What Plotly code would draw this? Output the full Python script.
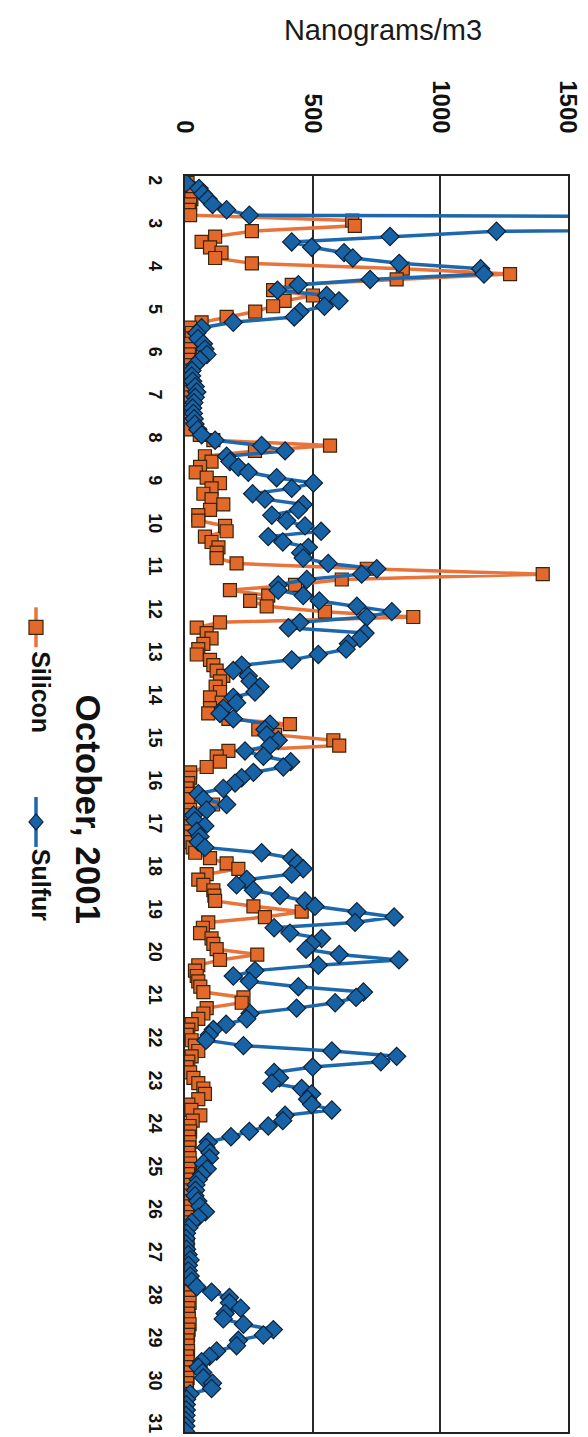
import pandas as pd
import plotly.graph_objects as go

# ---------------- data (3-hourly readings, October 2001) ----------------
start_time = "2001-10-02 00:00"
step = "3h"

silicon = [
    10, 15, 20, 25, 20, 15, 20, 655,          # Oct 2
    665, 262, 118, 65, 98, 143, 118, 262,     # Oct 3
    853, 1273, 829, 418, 345, 501, 390, 345,  # Oct 4
    275, 163, 65, 20, 26, 26, 24, 20,         # Oct 5
    15, 13, 10, 8, 7, 6, 5, 5,                # Oct 6
    5, 5, 6, 6, 8, 10, 20, 58,                # Oct 7
    111, 568, 274, 78, 104, 59, 42, 85,       # Oct 8
    137, 104, 72, 104, 150, 98, 52, 52,       # Oct 9
    157, 163, 78, 104, 131, 124, 124, 202,    # Oct 10
    712, 1401, 614, 431, 176, 326, 255, 320,  # Oct 11
    548, 894, 137, 46, 85, 104, 72, 52,       # Oct 12
    46, 98, 111, 124, 150, 137, 120, 137,     # Oct 13
    98, 144, 98, 91, 170, 411, 287, 353,      # Oct 14
    581, 604, 170, 124, 137, 85, 20, 20,      # Oct 15
    13, 7, 8, 13, 110, 20, 10, 8,             # Oct 16
    8, 10, 15, 20, 30, 40, 98, 163,           # Oct 17
    209, 85, 52, 72, 111, 115, 118, 268,      # Oct 18
    457, 313, 91, 70, 59, 104, 111, 124,      # Oct 19
    283, 137, 52, 39, 46, 52, 60, 72,         # Oct 20
    229, 222, 85, 72, 52, 26, 13, 7,          # Oct 21
    26, 39, 52, 26, 13, 7, 20, 33,            # Oct 22
    52, 72, 78, 52, 13, 25, 60, 30,           # Oct 23
    18, 20, 15, 18, 16, 14, 18, 20,           # Oct 24
    15, 12, 14, 16, 12, 10, 12, 14,           # Oct 25
    10, 8, 8, 6, 6, 8, 10, 8,                 # Oct 26
    10, 12, 10, 10, 12, 14, 15, 12,           # Oct 27
    15, 18, 14, 12, 15, 18, 14, 12,           # Oct 28
    10, 10, 12, 8, 10, 10, 8, 10,             # Oct 29
    8, 6, 5, 4, 5, 4, 3, 4,                   # Oct 30
    3, 3,                                     # Oct 31
]

sulfur = [
    4, 55, 70, 90, 108, 163, 252, 6000,       # Oct 2
    5000, 1220, 803, 418, 496, 623, 657, 839, # Oct 3
    1158, 1171, 725, 444, 362, 555, 603, 546, # Oct 4
    450, 428, 189, 65, 46, 51, 72, 78,        # Oct 5
    86, 59, 39, 27, 26, 30, 40, 46,           # Oct 6
    40, 35, 30, 33, 36, 39, 50, 65,           # Oct 7
    118, 300, 392, 163, 176, 209, 248, 359,   # Oct 8
    503, 418, 265, 313, 463, 444, 340, 398,   # Oct 9
    470, 533, 326, 383, 483, 453, 463, 561,   # Oct 10
    751, 692, 477, 365, 365, 463, 526, 673,   # Oct 11
    810, 712, 450, 405, 705, 685, 640, 631,   # Oct 12
    522, 418, 222, 189, 248, 255, 294, 274,   # Oct 13
    189, 202, 150, 137, 189, 333, 313, 320,   # Oct 14
    365, 333, 235, 307, 414, 385, 268, 222,   # Oct 15
    196, 150, 52, 72, 163, 85, 33, 39,        # Oct 16
    78, 46, 59, 52, 78, 300, 418, 440,        # Oct 17
    463, 418, 242, 202, 268, 372, 470, 509,   # Oct 18
    673, 819, 666, 349, 411, 535, 496, 474,   # Oct 19
    604, 838, 522, 274, 189, 252, 444, 699,   # Oct 20
    670, 588, 437, 255, 242, 161, 111, 95,    # Oct 21
    82, 229, 575, 829, 767, 500, 349, 370,    # Oct 22
    340, 457, 496, 480, 496, 575, 392, 383,   # Oct 23
    326, 252, 180, 91, 82, 98, 96, 72,        # Oct 24
    87, 65, 52, 43, 41, 39, 50, 59,           # Oct 25
    80, 52, 26, 15, 6, 4, 3, 6,               # Oct 26
    12, 20, 13, 13, 20, 26, 46, 104,          # Oct 27
    174, 174, 218, 157, 150, 229, 346, 307,   # Oct 28
    209, 202, 124, 96, 65, 52, 69, 72,        # Oct 29
    108, 104, 20, 6, 5, 5, 4, 3,              # Oct 30
    3, 2,                                     # Oct 31
]

day_ticks = list(range(2, 32))
value_ticks = [0, 500, 1000, 1500]
value_range = [0, 1500]
time_range = ["2001-10-31 03:20", "2001-10-01 20:05"]   # reversed (top = earliest)

times = pd.date_range(start_time, periods=len(sulfur), freq=step)
day_tick_dates = [pd.Timestamp(2001, 10, d) for d in day_ticks]

# ---------------- geometry helpers (pixels -> paper) ----------------
W, H = 588, 1437
PL, PR, PT, PB = 185, 568, 176, 1434


def pxx(x):
    return (x - PL) / (PR - PL)


def pxy(y):
    return (PB - y) / (PB - PT)


ORANGE_LINE = "#E8743C"
ORANGE_FILL = "#E2692A"
BLUE_LINE = "#1D68AC"
BLUE_FILL = "#1763A6"
FONT = "Liberation Sans"

fig = go.Figure()
fig.add_trace(go.Scatter(
    x=silicon, y=times, mode="lines+markers", name="Silicon",
    line=dict(color=ORANGE_LINE, width=3.5),
    marker=dict(symbol="square", size=13, color=ORANGE_FILL,
                line=dict(color="#3b2408", width=1.2)),
))
fig.add_trace(go.Scatter(
    x=sulfur, y=times, mode="lines+markers", name="Sulfur",
    line=dict(color=BLUE_LINE, width=3.5),
    marker=dict(symbol="diamond", size=14, color=BLUE_FILL,
                line=dict(color="#0e2238", width=1.2)),
))

fig.update_layout(
    width=W, height=H,
    margin=dict(l=PL, r=W - PR, t=PT, b=H - PB),
    paper_bgcolor="white", plot_bgcolor="white",
    showlegend=False,
    title=dict(text="Nanograms/m3", x=383 / W, y=1 - 30 / H,
               xref="container", yref="container",
               xanchor="center", yanchor="middle",
               font=dict(family=FONT, size=29, color="#1a1a1a")),
    xaxis=dict(
        range=value_range, side="top",
        tickvals=value_ticks, ticktext=[f"<b>{v}</b>" for v in value_ticks],
        tickangle=90, ticks="", ticklabelstandoff=32,
        tickfont=dict(family=FONT, size=24, color="#111"),
        showgrid=True, gridcolor="#2a2a2a", gridwidth=2,
        showline=True, mirror=True, linecolor="#222", linewidth=2,
        zeroline=False,
    ),
    yaxis=dict(
        type="date", range=time_range,
        tickvals=day_tick_dates, ticktext=[f"<b>{d}</b>" for d in day_ticks],
        tickangle=90, ticks="", ticklabelstandoff=12,
        tickfont=dict(family=FONT, size=18, color="#111"),
        showgrid=False,
        showline=True, mirror=True, linecolor="#222", linewidth=2,
        zeroline=False,
    ),
)

# axis title for the time axis (rotated like the scanned page)
fig.add_annotation(text="<b>October, 2001</b>", textangle=90,
                   xref="paper", yref="paper", x=pxx(67), y=pxy(810),
                   showarrow=False, font=dict(family=FONT, size=35, color="#111"))

# legend, drawn rotated
fig.add_annotation(text="<b>Silicon</b>", textangle=90,
                   xref="paper", yref="paper", x=pxx(25), y=pxy(693),
                   showarrow=False, font=dict(family=FONT, size=25, color="#111"))
fig.add_annotation(text="<b>Sulfur</b>", textangle=90,
                   xref="paper", yref="paper", x=pxx(25), y=pxy(886),
                   showarrow=False, font=dict(family=FONT, size=25, color="#111"))

fig.add_shape(type="line", xref="paper", yref="paper",
              x0=pxx(36), x1=pxx(36), y0=pxy(608), y1=pxy(648),
              line=dict(color=ORANGE_LINE, width=3.5))
fig.add_shape(type="rect", xref="paper", yref="paper",
              xsizemode="pixel", ysizemode="pixel",
              xanchor=pxx(36), yanchor=pxy(628),
              x0=-7, x1=7, y0=-7, y1=7,
              fillcolor=ORANGE_FILL, line=dict(color="#3b2408", width=1.2))
fig.add_shape(type="line", xref="paper", yref="paper",
              x0=pxx(36), x1=pxx(36), y0=pxy(798), y1=pxy(848),
              line=dict(color=BLUE_LINE, width=3.5))
fig.add_shape(type="path", xref="paper", yref="paper",
              xsizemode="pixel", ysizemode="pixel",
              xanchor=pxx(36), yanchor=pxy(823),
              path="M 0,8 L 7,0 L 0,-8 L -7,0 Z",
              fillcolor=BLUE_FILL, line=dict(color="#0e2238", width=1.2))

fig.write_html("out.html")
